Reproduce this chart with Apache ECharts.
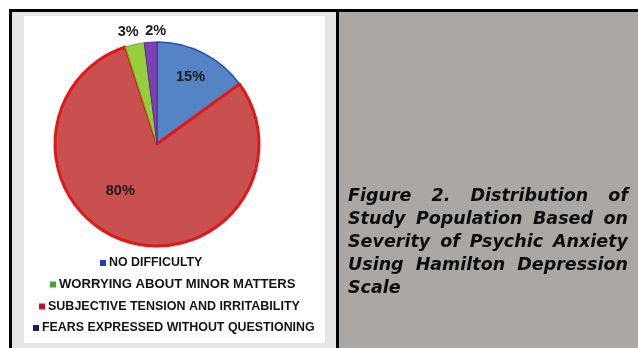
<!DOCTYPE html>
<html>
<head>
<meta charset="utf-8">
<script src="https://cdn.jsdelivr.net/npm/echarts@6/dist/echarts.min.js"></script>
<style>
  html, body { margin: 0; padding: 0; background: #ffffff; }
  #wrap { position: relative; width: 638px; height: 348px; overflow: hidden; }
  #chart { position: absolute; left: 0; top: 0; width: 638px; height: 348px; }
  #caption {
    position: absolute; left: 348px; top: 184px; width: 280px;
    font-family: "DejaVu Sans", Verdana, sans-serif; font-weight: bold; font-style: italic;
    font-size: 17.5px; line-height: 23px; color: #0d0d0d;
  }
  #caption .j { text-align: justify; text-align-last: justify; white-space: nowrap; }
  #caption .l { text-align: left; white-space: nowrap; }
</style>
</head>
<body>
<div id="wrap">
  <div id="chart"></div>
  <div id="caption"></div>
</div>
<script>
// ---- data ----
const categories = ['NO DIFFICULTY', 'SUBJECTIVE TENSION AND IRRITABILITY', 'WORRYING ABOUT MINOR MATTERS', 'FEARS EXPRESSED WITHOUT QUESTIONING'];
const values = [15, 80, 3, 2];
const legendOrder = ['NO DIFFICULTY', 'WORRYING ABOUT MINOR MATTERS', 'SUBJECTIVE TENSION AND IRRITABILITY', 'FEARS EXPRESSED WITHOUT QUESTIONING'];
const captionLines = ['Figure 2. Distribution of', 'Study Population Based on', 'Severity of Psychic Anxiety', 'Using Hamilton Depression', 'Scale'];

// ---- styles ----
const sliceFill = ['#5584c4', '#c8504e', '#96cf3c', '#7b42b4'];
const sliceBorder = ['#1f4eb0', '#e01818', '#6fae2a', '#5a2a98'];
const sliceBorderW = [1.5, 3, 1, 1];
const labelOffset = [[9, -19], [-20, -4], [-17, -59], [2, -59]];
// legend marker colours, in legend order
const legendMarker = ['#1f3fc0', '#3aa832', '#c0181e', '#1c1c5a'];
const legendPos = [[100, 257], [50, 278], [39, 300], [33, 322]];
const legendFont = [12.4, 13.1, 12.5, 12.4];

document.getElementById('caption').innerHTML = captionLines.map((t, i) =>
  '<div class="' + (i < captionLines.length - 1 ? 'j' : 'l') + '">' + t + '</div>').join('');

const chart = echarts.init(document.getElementById('chart'), null, { renderer: 'canvas' });

const pieData = categories.map((name, i) => ({
  name: name,
  value: values[i],
  itemStyle: { color: sliceFill[i], borderColor: sliceBorder[i], borderWidth: sliceBorderW[i] },
  label: { offset: labelOffset[i] }
}));

const legends = legendOrder.map((name, i) => ({
  orient: 'horizontal',
  left: legendPos[i][0],
  top: legendPos[i][1],
  padding: 0,
  itemWidth: 6,
  itemHeight: 6,
  itemGap: 4,
  icon: 'rect',
  selectedMode: false,
  data: [{ name: name, itemStyle: { color: legendMarker[i], borderWidth: 0 } }],
  textStyle: { fontFamily: 'Liberation Sans, Arial, sans-serif', fontWeight: 'bold', fontSize: legendFont[i], color: '#141414', padding: [0, 0, 0, -2] }
}));

chart.setOption({
  animation: false,
  backgroundColor: 'transparent',
  graphic: [
    { type: 'rect', z: -10, shape: { x: 9, y: 9, width: 629, height: 3 }, style: { fill: '#000' } },
    { type: 'rect', z: -10, shape: { x: 9, y: 9, width: 3, height: 339 }, style: { fill: '#000' } },
    { type: 'rect', z: -10, shape: { x: 12, y: 12, width: 324, height: 336 }, style: { fill: '#e5e5e5' } },
    { type: 'rect', z: -10, shape: { x: 24, y: 16, width: 301, height: 327 }, style: { fill: '#ffffff' } },
    { type: 'rect', z: -10, shape: { x: 336, y: 9, width: 3, height: 339 }, style: { fill: '#000' } },
    { type: 'rect', z: -10, shape: { x: 339, y: 12, width: 299, height: 336 }, style: { fill: '#aaa7a5' } }
  ],
  legend: legends,
  series: [{
    type: 'pie',
    center: [157, 144],
    radius: 102,
    startAngle: 90,
    clockwise: true,
    avoidLabelOverlap: false,
    label: {
      show: true,
      position: 'inside',
      formatter: '{c}%',
      fontFamily: 'Liberation Sans, Arial, sans-serif',
      fontWeight: 'bold',
      fontSize: 14.5,
      color: '#1a1a1a'
    },
    labelLine: { show: false },
    emphasis: { disabled: true },
    data: pieData
  }]
});
</script>
</body>
</html>
